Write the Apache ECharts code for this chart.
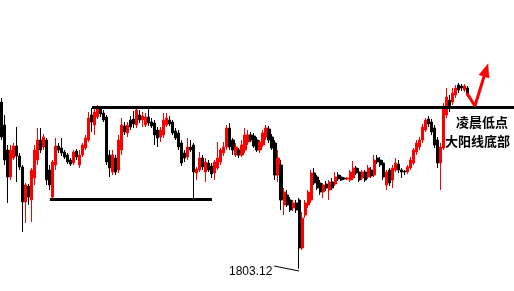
<!DOCTYPE html>
<html><head><meta charset="utf-8">
<script src="https://cdn.jsdelivr.net/npm/echarts@6/dist/echarts.min.js"></script>
<style>html,body{margin:0;padding:0;background:#fff}#c{width:514px;height:291px}</style>
</head><body><div id="c"></div>
<script>
// Candle values (open, close, high, low)
const opens  = [1819.8,1817.5,1815.0,1812.3,1814.2,1815.4,1814.4,1813.3,1809.8,1811.4,1810.0,1812.2,1814.0,1816.0,1815.3,1816.0,1813.0,1810.3,1813.5,1815.4,1815.2,1814.8,1814.5,1814.0,1813.7,1814.9,1813.5,1814.5,1815.2,1816.0,1818.5,1817.5,1818.3,1819.1,1818.7,1818.3,1814.5,1812.8,1814.2,1813.0,1815.0,1817.4,1816.7,1818.0,1818.1,1817.5,1818.5,1818.0,1817.5,1818.3,1817.8,1817.7,1817.0,1816.3,1816.5,1817.5,1818.0,1817.8,1816.9,1816.7,1815.7,1814.7,1814.3,1815.3,1815.5,1812.7,1813.0,1814.2,1812.8,1813.7,1813.4,1812.7,1813.2,1813.8,1814.7,1815.3,1817.2,1816.0,1814.5,1815.0,1814.5,1815.0,1815.8,1816.5,1816.4,1816.0,1815.0,1815.5,1816.3,1817.1,1816.3,1815.7,1812.5,1813.5,1809.5,1810.5,1810.0,1809.2,1809.7,1810.0,1805.2,1808.5,1809.5,1810.0,1812.7,1812.3,1811.7,1810.8,1811.6,1811.0,1811.8,1811.6,1812.5,1812.3,1812.2,1812.1,1812.0,1812.2,1813.2,1812.8,1812.2,1812.8,1812.3,1813.0,1812.5,1814.2,1814.0,1813.7,1811.5,1813.0,1812.0,1813.0,1813.6,1813.0,1812.9,1812.8,1813.2,1813.7,1814.8,1815.3,1816.0,1817.0,1818.1,1817.8,1817.2,1816.0,1813.7,1815.2,1818.5,1820.0,1819.8,1820.5,1821.5,1821.4,1821.0,1821.2];
const closes = [1816.3,1814.0,1812.3,1815.0,1815.4,1814.4,1813.3,1809.8,1811.5,1810.3,1813.0,1815.0,1816.0,1815.0,1816.3,1812.0,1811.5,1813.8,1815.4,1815.0,1814.7,1814.3,1813.8,1813.6,1814.8,1814.3,1814.5,1815.5,1816.2,1818.2,1817.8,1818.8,1819.2,1818.6,1818.0,1813.8,1813.2,1814.5,1812.8,1816.0,1817.5,1816.8,1817.5,1817.3,1817.6,1819.0,1818.0,1818.4,1818.3,1817.7,1817.4,1816.5,1816.2,1817.0,1818.0,1818.2,1817.6,1816.7,1816.2,1815.3,1813.7,1814.2,1815.3,1815.0,1812.8,1813.1,1814.2,1813.3,1813.8,1813.0,1812.6,1813.8,1814.2,1815.0,1815.3,1817.2,1815.3,1815.0,1815.3,1814.5,1815.5,1816.5,1816.5,1816.0,1815.4,1815.0,1815.8,1816.7,1817.2,1816.0,1815.2,1812.5,1814.2,1810.0,1810.8,1809.5,1809.0,1809.7,1809.0,1805.2,1808.2,1809.7,1810.8,1812.7,1811.7,1811.2,1810.8,1811.5,1811.2,1811.8,1811.2,1812.3,1812.1,1812.0,1812.1,1812.2,1812.8,1813.2,1812.7,1812.0,1812.8,1812.0,1813.2,1812.4,1814.0,1813.8,1813.5,1812.3,1812.8,1811.7,1813.2,1813.7,1813.0,1812.8,1812.8,1813.3,1814.0,1815.0,1815.7,1816.0,1817.3,1818.0,1817.6,1816.8,1815.5,1813.7,1815.3,1819.2,1820.3,1819.2,1820.7,1821.2,1821.0,1821.2,1821.4,1820.5];
const highs  = [1820.2,1818.5,1815.5,1815.5,1815.7,1817.3,1814.7,1813.5,1811.7,1811.6,1813.2,1815.5,1817.2,1817.2,1816.6,1816.2,1813.5,1814.0,1816.2,1815.7,1816.2,1815.0,1814.7,1814.2,1815.0,1815.1,1815.0,1815.7,1816.5,1818.8,1819.2,1819.2,1819.5,1819.4,1819.0,1818.5,1815.0,1815.0,1814.5,1816.5,1818.2,1817.8,1817.8,1818.4,1818.9,1819.2,1819.0,1818.8,1818.7,1819.2,1818.2,1818.0,1817.3,1817.3,1818.7,1818.7,1818.4,1818.0,1817.2,1817.0,1816.0,1815.0,1816.2,1816.0,1815.7,1813.3,1814.8,1814.5,1814.2,1814.0,1813.7,1814.0,1815.8,1815.2,1815.8,1817.5,1817.7,1816.2,1815.7,1815.2,1816.0,1817.2,1817.0,1816.8,1816.7,1816.3,1816.0,1817.0,1817.5,1817.4,1816.6,1816.0,1815.0,1814.0,1811.2,1811.0,1810.3,1810.0,1810.0,1810.2,1808.8,1810.0,1811.0,1813.0,1813.2,1812.5,1812.0,1811.7,1811.9,1812.0,1812.2,1812.8,1812.8,1812.5,1812.3,1812.3,1813.0,1813.9,1813.4,1813.2,1813.0,1813.0,1813.5,1813.3,1814.5,1814.5,1814.3,1814.0,1813.0,1813.2,1813.5,1814.2,1814.0,1813.2,1813.0,1813.5,1814.3,1815.2,1816.0,1816.3,1817.6,1818.2,1818.4,1818.1,1817.5,1816.3,1815.7,1819.7,1821.2,1820.5,1821.2,1821.5,1821.7,1821.6,1821.6,1821.4];
const lows   = [1816.0,1813.5,1809.7,1812.0,1814.0,1811.8,1813.0,1806.8,1807.7,1809.5,1807.8,1811.5,1813.5,1814.7,1815.0,1811.5,1811.0,1810.1,1813.0,1814.7,1814.4,1814.1,1813.6,1813.4,1813.5,1814.0,1813.2,1814.3,1815.0,1815.8,1816.8,1816.5,1818.1,1818.3,1817.8,1813.5,1812.3,1812.5,1812.5,1812.7,1814.5,1816.5,1816.3,1817.0,1817.2,1817.2,1817.7,1817.3,1817.3,1817.4,1817.2,1815.5,1815.3,1815.8,1816.2,1817.3,1817.4,1816.5,1816.0,1815.0,1813.4,1813.8,1814.0,1814.8,1810.2,1812.0,1812.8,1813.0,1811.8,1812.8,1812.2,1812.0,1813.0,1813.5,1814.4,1815.0,1815.0,1814.5,1814.3,1814.2,1814.3,1814.7,1815.5,1815.8,1815.2,1814.8,1814.7,1815.3,1816.0,1815.7,1815.0,1812.0,1811.8,1809.0,1808.5,1809.3,1808.8,1808.9,1808.7,1803.12,1805.0,1808.2,1809.2,1809.7,1811.5,1811.0,1810.5,1810.2,1810.9,1810.0,1811.0,1811.4,1811.9,1811.9,1812.0,1812.0,1811.8,1812.0,1812.5,1811.8,1812.0,1811.8,1812.1,1812.2,1812.3,1813.6,1813.3,1812.0,1811.0,1811.4,1811.2,1812.8,1812.7,1812.2,1812.5,1812.6,1813.0,1813.5,1814.5,1815.0,1815.7,1816.8,1817.3,1816.5,1815.2,1813.2,1811.0,1815.0,1818.2,1818.8,1819.5,1820.2,1820.7,1820.9,1820.8,1820.3];
const slotCount = 171;           // category slots across the plot (incl. empty right margin)
const lowLabel = '1803.12';
const noteLines = ['凌晨低点', '大阳线底部'];
const resistance = 1819.3, support = 1810.05;
// arrow path (slot position, price)
const arrowX = [155.3, 158.0, 161.7];
const arrowY = [1820.7, 1819.4, 1823.0];

const categories = [];
for (let i = 0; i < slotCount; i++) categories.push(String(i + 1));
const kData = opens.map((o, i) => [o, closes[i], lows[i], highs[i]]);
const lowIdx = lows.indexOf(Math.min.apply(null, lows));

const chart = echarts.init(document.getElementById('c'), null, {renderer: 'canvas'});
chart.setOption({
  animation: false,
  backgroundColor: '#ffffff',
  grid: {left: 0, right: 0, top: 0, bottom: 0},
  xAxis: [
    {type: 'category', data: categories, show: false, boundaryGap: true},
    {type: 'value', min: 0, max: slotCount, show: false}
  ],
  yAxis: {type: 'value', min: 1800.9, max: 1830, show: false, splitLine: {show: false}},
  series: [
    {
      type: 'candlestick', data: kData, barWidth: 2.6,
      itemStyle: {color: '#ff0000', color0: '#000000', borderColor: '#ff0000', borderColor0: '#000000', borderWidth: 1}
    },
    {
      type: 'line', xAxisIndex: 1,
      data: arrowX.map((x, i) => i === arrowX.length - 1
        ? {value: [x, arrowY[i]], symbol: 'triangle', symbolSize: [11, 14], symbolRotate: -18, itemStyle: {color: '#ff0000'}}
        : {value: [x, arrowY[i]], symbol: 'none'}),
      lineStyle: {color: '#ff0000', width: 3},
      showSymbol: true, silent: true, z: 5,
      markLine: {
        silent: true, symbol: ['none', 'none'], label: {show: false},
        data: [
          [{coord: [30.6, resistance], lineStyle: {color: '#000', width: 3, type: 'solid'}}, {coord: [171, resistance]}],
          [{coord: [16.6, support], lineStyle: {color: '#000', width: 3, type: 'solid'}}, {coord: [70.5, support]}],
          [{coord: [91.2, 1803.4], lineStyle: {color: '#000', width: 1, type: 'solid'}}, {coord: [lowIdx + 0.5, 1802.9]}]
        ]
      }
    }
  ],
  graphic: [
    {type: 'text', left: 229, top: 266, style: {text: lowLabel, font: '12px "Liberation Sans", Arial, sans-serif', fill: '#000'}},
    {type: 'text', left: 456, top: 116, style: {text: noteLines[0], font: 'bold 13px "Noto Sans CJK SC", sans-serif', fill: '#000'}},
    {type: 'text', left: 445, top: 135, style: {text: noteLines[1], font: 'bold 13px "Noto Sans CJK SC", sans-serif', fill: '#000'}}
  ]
});
</script>
</body></html>
